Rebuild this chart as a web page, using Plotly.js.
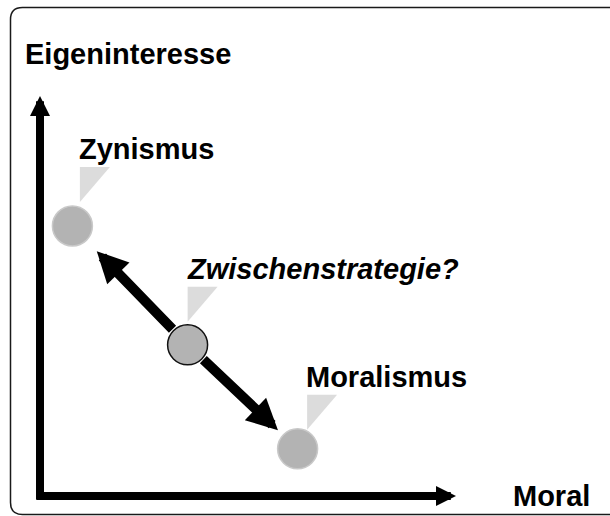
<!DOCTYPE html>
<html><head><meta charset="utf-8">
<script src="https://cdn.plot.ly/plotly-3.0.1.min.js"></script>
<style>html,body{margin:0;padding:0;background:#fff;overflow:hidden}#chart{width:610px;height:516px}</style>
</head><body><div id="chart"></div>
<script>
// ---- data ----
const strategies = ['Zynismus', 'Zwischenstrategie?', 'Moralismus'];
const moral = [0.81, 3.69, 6.44];           // x: Moral
const eigeninteresse = [6.75, 3.78, 1.18];  // y: Eigeninteresse
const xAxisLabel = 'Moral';
const yAxisLabel = 'Eigeninteresse';
const axisEnd = [10.4, 10];                 // arrow tips of Moral / Eigeninteresse axes

// ---- layout helpers (pixels -> data units) ----
const W = 610, H = 516, UNIT = 40, OX = 40, OY = 496;
const xr = [-OX / UNIT, (W - OX) / UNIT];
const yr = [-(H - OY) / UNIT, OY / UNIT];
const px = p => p / UNIT;
const xAt = p => (p - OX) / UNIT;
const yAt = p => (OY - p) / UNIT;

const FONT = 'Liberation Sans, Arial, Helvetica, sans-serif';
const FS = 29;

// callout triangles (pixel offsets relative to each point)
const calloutDx = [7.5, 0, 9.5];
const calloutDy = [24, 23, 19];
const TRI_W = 30, TRI_H = 35;

const traces = [];
strategies.forEach((s, i) => {
  const bx = moral[i] + px(calloutDx[i]);
  const by = eigeninteresse[i] + px(calloutDy[i]);
  traces.push({
    type: 'scatter', mode: 'lines', fill: 'toself', fillcolor: '#dcdcdc',
    line: {width: 0, color: '#dcdcdc'}, hoverinfo: 'skip', showlegend: false,
    x: [bx, bx, bx + px(TRI_W), bx],
    y: [by, by + px(TRI_H), by + px(TRI_H), by]
  });
});
traces.push({
  type: 'scatter', mode: 'markers', x: moral, y: eigeninteresse, text: strategies,
  hoverinfo: 'text', showlegend: false,
  marker: {size: 40, color: '#b3b3b3',
           line: {width: [1.5, 1.5, 1.5], color: ['#c9c9c9', '#111111', '#c9c9c9']}}
});

const arrowBase = {text: '', showarrow: true, axref: 'x', ayref: 'y', xref: 'x', yref: 'y',
  arrowcolor: '#000', font: {size: 1}, borderpad: 0};
const ann = [
  Object.assign({}, arrowBase, {x: 0, y: axisEnd[1], ax: 0, ay: -px(4),
    arrowhead: 2, arrowwidth: 8, arrowsize: 0.5}),
  Object.assign({}, arrowBase, {x: axisEnd[0], y: 0, ax: -px(4), ay: 0,
    arrowhead: 2, arrowwidth: 8, arrowsize: 0.5}),
  Object.assign({}, arrowBase, {x: moral[0], y: eigeninteresse[0], ax: moral[1], ay: eigeninteresse[1],
    arrowhead: 2, arrowwidth: 10, arrowsize: 0.62, standoff: 35, startstandoff: 21}),
  Object.assign({}, arrowBase, {x: moral[2], y: eigeninteresse[2], ax: moral[1], ay: eigeninteresse[1],
    arrowhead: 2, arrowwidth: 10, arrowsize: 0.62, standoff: 27, startstandoff: 21})
];
strategies.forEach((s, i) => {
  ann.push({
    text: s, showarrow: false, xref: 'x', yref: 'y', xanchor: 'left', yanchor: 'bottom',
    x: moral[i] + px(calloutDx[i]), y: eigeninteresse[i] + px(calloutDy[i] + TRI_H),
    xshift: -2, yshift: 1, borderpad: 0,
    font: {family: FONT, size: FS, color: '#000', weight: 'bold', style: i === 1 ? 'italic' : 'normal'}
  });
});
ann.push({text: yAxisLabel, showarrow: false, xref: 'x', yref: 'y', xanchor: 'left', yanchor: 'middle',
  x: xAt(24), y: yAt(54), borderpad: 0, font: {family: FONT, size: FS, color: '#000', weight: 'bold'}});
ann.push({text: xAxisLabel, showarrow: false, xref: 'x', yref: 'y', xanchor: 'left', yanchor: 'middle',
  x: xAt(512), y: yAt(496), borderpad: 0, font: {family: FONT, size: FS, color: '#000', weight: 'bold'}});

// rounded frame (right side lies outside the picture)
const L = 10.5, T = 7.5, B = 514.5, R = 700, r = 12;
const P = (a, b) => xAt(a) + ',' + yAt(b);
const framePath = 'M' + P(L + r, T) + 'L' + P(R, T) + 'M' + P(R, B) + 'L' + P(L + r, B) +
  'Q' + P(L, B) + ' ' + P(L, B - r) + 'L' + P(L, T + r) + 'Q' + P(L, T) + ' ' + P(L + r, T);

const layout = {
  width: W, height: H, margin: {l: 0, r: 0, t: 0, b: 0},
  paper_bgcolor: '#fff', plot_bgcolor: '#fff', showlegend: false,
  xaxis: {range: xr, visible: false, fixedrange: true},
  yaxis: {range: yr, visible: false, fixedrange: true},
  shapes: [{type: 'path', xref: 'x', yref: 'y', path: framePath, line: {color: '#1a1a1a', width: 1.5}, layer: 'below'}],
  annotations: ann
};
Plotly.newPlot('chart', traces, layout, {displayModeBar: false, staticPlot: true});
</script></body></html>
